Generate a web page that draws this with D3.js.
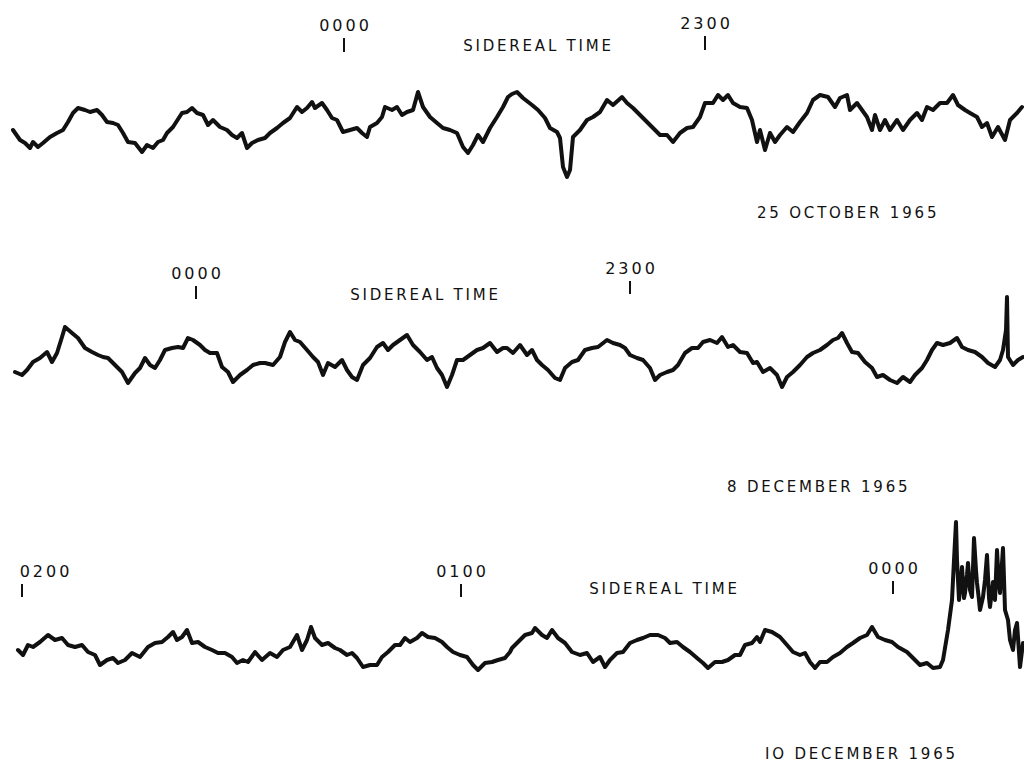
<!DOCTYPE html>
<html><head><meta charset="utf-8">
<script src="https://cdn.jsdelivr.net/npm/d3@7"></script>
<style>html,body{margin:0;padding:0;background:#fff;}svg{display:block;}</style>
</head><body>
<script>
// Trace readings: [time position, pen deflection] (recorder units)
const trace1 = [[13,130],[20,140],[25,143],[30,148],[33,142],[38,147],[43,143],[50,137],[57,133],[63,130],[68,122],[73,113],[78,108],[85,110],[90,112],[97,110],[102,115],[107,122],[113,123],[118,125],[123,133],[128,142],[135,143],[142,152],[147,145],[153,148],[158,142],[163,140],[167,133],[173,127],[182,113],[187,112],[192,108],[197,113],[203,115],[208,125],[213,120],[220,127],[227,130],[232,135],[237,138],[242,133],[247,148],[252,143],[258,140],
[265,138],[270,133],[277,128],[283,123],[290,118],[297,107],[302,112],[307,108],[312,102],[315,108],[322,103],[327,110],[332,118],[337,120],[343,132],[350,130],[357,128],[362,133],[367,137],[370,127],[377,123],[382,117],[385,107],[392,110],[397,107],[402,115],[407,112],[413,110],[418,92],[423,107],[430,117],[437,123],[443,128],[450,130],[457,133],[463,147],[468,153],[473,145],[478,135],[483,142],[490,128],[497,117],[503,107],[508,97],
[512,94],[517,92],[523,98],[532,105],[538,110],[545,118],[550,128],[557,132],[560,138],[563,167],[567,177],[570,170],[573,137],[580,130],[587,120],[593,117],[600,112],[607,100],[613,105],[622,97],[627,103],[633,108],[640,115],[647,122],[653,128],[660,135],[667,135],[673,142],[680,133],[687,128],[693,127],[700,117],[705,103],[713,103],[718,95],[723,100],[728,95],[733,103],[740,107],[747,108],[752,120],[757,142],[760,130],
[765,150],[770,133],[775,142],[780,135],[787,127],[793,132],[800,122],[807,113],[813,100],[820,95],[828,97],[835,107],[840,98],[847,95],[850,110],[857,103],[862,110],[867,117],[872,130],[875,115],[880,130],[885,120],[890,130],[897,120],[903,130],[910,120],[917,113],[922,120],[927,107],[933,110],[940,103],[947,103],[953,95],[958,105],[965,110],[970,113],[977,117],[982,127],[987,123],[992,137],[998,127],[1005,140],[1010,120],[1017,113],[1022,107]];

const trace2 = [[15,372],[22,375],[27,370],[33,362],[40,358],[47,352],[52,362],[57,353],[62,337],[65,327],[72,333],[78,338],[85,348],[92,352],[98,355],[103,357],[108,358],[115,365],[122,372],[128,383],[135,373],[140,368],[145,358],[150,365],[155,368],[160,360],[165,350],[172,348],[178,347],[183,348],[188,338],[193,340],[200,345],[205,350],[210,353],[217,353],[222,367],[228,372],[233,382],[240,375],[247,370],[253,365],[260,363],
[265,363],[273,365],[280,357],[285,342],[290,332],[295,340],[300,342],[307,350],[313,357],[318,362],[323,375],[328,363],[335,367],[342,360],[347,370],[352,377],[357,380],[363,365],[370,358],[377,347],[383,343],[388,350],[393,345],[400,340],[407,335],[413,345],[420,352],[427,360],[432,357],[437,368],[442,375],[447,387],[452,375],[457,360],[463,360],[470,355],[477,350],[483,348],[490,343],[497,352],[503,348],
[507,348],[513,353],[520,345],[527,355],[532,350],[537,360],[542,365],[548,370],[555,378],[560,380],[565,368],[572,362],[578,360],[585,350],[592,348],[598,347],[607,340],[613,343],[620,345],[625,348],[630,355],[637,358],[643,360],[650,368],[655,380],[660,375],[667,372],[673,370],[678,365],[685,353],[692,348],[698,348],[703,342],[710,340],[717,343],[722,337],[728,347],[733,345],[740,352],[747,353],[753,363],
[757,362],[763,372],[770,368],[777,375],[782,387],[787,377],[793,372],[800,365],[807,357],[813,353],[820,350],[827,345],[833,340],[838,338],[842,333],[847,343],[852,352],[858,353],[865,362],[872,368],[877,377],[883,375],[890,380],[897,383],[903,377],[910,382],[915,375],[922,368],[927,360],[932,350],[937,343],[943,345],[950,343],[957,338],[962,347],[968,350],[975,352],[982,357],[988,363],[995,367],[1000,360],[1003,350],[1006,330],[1007,297],[1008,357],[1013,365],[1018,360],[1023,357]];

const trace3 = [[18,650],[23,655],[28,645],[33,647],[40,642],[48,635],[55,640],[62,638],[68,645],[75,647],[82,645],[88,652],[95,655],[100,665],[107,660],[113,658],[118,663],[125,660],[132,653],[140,657],[148,647],[155,643],[162,642],[168,637],[173,632],[177,640],[182,637],[187,630],[192,643],[198,642],[205,647],[212,650],[218,653],[225,653],[232,657],[237,663],[243,660],[248,662],[253,655],
[255,652],[262,660],[270,653],[277,657],[283,650],[290,647],[297,635],[302,650],[307,640],[311,627],[315,638],[322,645],[328,643],[335,648],[340,650],[347,655],[352,653],[357,658],[363,667],[370,665],[377,665],[382,657],[388,652],[395,645],[400,645],[405,638],[410,642],[417,638],[422,633],[428,637],[435,638],[442,642],[447,647],[453,652],[460,655],[467,657],[473,665],[478,670],[485,663],[492,662],[498,660],[505,658],
[510,652],[512,648],[518,642],[525,635],[532,633],[535,628],[542,635],[547,638],[552,630],[558,638],[565,643],[572,652],[580,655],[587,653],[593,662],[600,657],[605,667],[610,660],[617,653],[623,652],[630,643],[637,640],[643,638],[650,635],[658,635],[665,638],[670,643],[677,642],[683,647],[690,652],[697,658],[703,663],[708,668],[715,662],[722,662],[728,660],[735,655],[740,655],[745,645],[752,643],[757,637],[760,642],
[765,630],[772,632],[780,637],[787,645],[793,652],[800,655],[805,653],[810,662],[815,668],[820,662],[827,662],[833,657],[840,653],[847,647],[853,643],[860,638],[867,635],[872,627],[878,637],[885,640],[892,642],[898,647],[907,652],[913,658],[920,665],[927,663],[933,668],[940,667],[943,660],[948,630],[952,600],[954,560],[956,522],[957,560],[959,600],[961,580],[962,567],[964,598],[965,593],[967,575],[968,563],[970,590],[972,597],[974,538],[976,570],[977,583],[979,600],[980,610],[983,597],[985,580],[987,555],[989,598],[990,607],[993,582],[995,600],[997,550],[999,585],[1000,593],[1003,548],[1005,610],[1008,620],[1010,640],[1013,650],[1015,630],[1017,623],[1020,667],[1023,643]];

const panelTitles = ["25 OCTOBER 1965", "8 DECEMBER 1965", "IO DECEMBER 1965"];
const axisName = "SIDEREAL TIME";
const tickLabels = [["0000","2300"],["0000","2300"],["0200","0100","0000"]];
const tickTimes  = [[344,705],[196,630],[22,461,893]];

const W = 1024, H = 763;
const svg = d3.select("body").append("svg").attr("width", W).attr("height", H);
const x = d3.scaleLinear().domain([0, 1024]).range([0, W]);
const y = d3.scaleLinear().domain([0, 763]).range([0, H]);

const line = d3.line().x(d => x(d[0])).y(d => y(d[1])).curve(d3.curveLinear);

const font = "'DejaVu Sans', sans-serif";
const panels = [
  {data: trace1, tickLabelY: 31, tickTop: 38, tickBot: 52, axisX: 537, axisY: 51, titleX: 757, titleY: 218},
  {data: trace2, tickLabelY: 279, tickTop: 286, tickBot: 299, axisX: 424, axisY: 300, titleX: 727, titleY: 492},
  {data: trace3, tickLabelY: 577, tickTop: 584, tickBot: 597, axisX: 663, axisY: 594, titleX: 765, titleY: 759}
];
const tickLabelDy = [[0,-2],[0,-5],[0,0,-3]];

panels.forEach((p, i) => {
  const g = svg.append("g");
  g.append("path").datum(p.data)
    .attr("d", line).attr("fill", "none").attr("stroke", "#111")
    .attr("stroke-width", 4).attr("stroke-linejoin", "round").attr("stroke-linecap", "round");
  tickTimes[i].forEach((t, k) => {
    const dy = tickLabelDy[i][k];
    g.append("line").attr("x1", x(t)).attr("x2", x(t))
      .attr("y1", p.tickTop + dy).attr("y2", p.tickBot + dy)
      .attr("stroke", "#111").attr("stroke-width", 2);
    g.append("text").attr("x", x(t) + (i === 2 && k === 0 ? 24 : 1.5)).attr("y", p.tickLabelY + dy)
      .attr("text-anchor", "middle").attr("font-family", font).attr("font-size", 16)
      .attr("letter-spacing", 3).attr("fill", "#111").text(tickLabels[i][k]);
  });
  g.append("text").attr("x", p.axisX + 1.5).attr("y", p.axisY).attr("text-anchor", "middle")
    .attr("font-family", font).attr("font-size", 15).attr("letter-spacing", 2.8)
    .attr("fill", "#111").text(axisName);
  g.append("text").attr("x", p.titleX).attr("y", p.titleY)
    .attr("font-family", font).attr("font-size", 15).attr("letter-spacing", 2.8)
    .attr("fill", "#111").text(panelTitles[i]);
});
</script>
</body></html>
